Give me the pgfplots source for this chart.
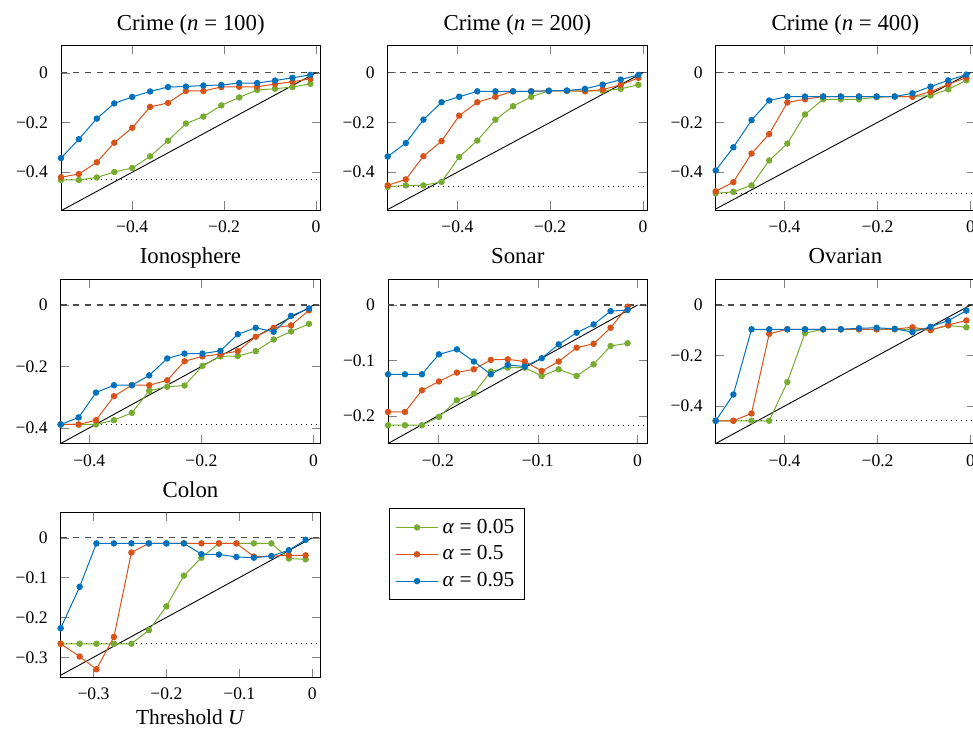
\documentclass[border=0pt]{standalone}
\usepackage{fontspec}
\setmainfont{Liberation Serif}
\usepackage{pgfplots}
\usepackage{pgfplotstable}
\pgfplotsset{compat=1.18}
\definecolor{cg}{RGB}{119,172,48}
\definecolor{cr}{RGB}{217,83,25}
\definecolor{cb}{RGB}{0,114,189}

\pgfplotstableread{
x g r b
-0.555 -0.431 -0.420 -0.343
-0.516 -0.431 -0.407 -0.267
-0.477 -0.421 -0.360 -0.184
-0.439 -0.399 -0.281 -0.123
-0.400 -0.383 -0.221 -0.097
-0.361 -0.336 -0.137 -0.075
-0.322 -0.273 -0.121 -0.057
-0.283 -0.204 -0.073 -0.055
-0.245 -0.176 -0.073 -0.051
-0.206 -0.131 -0.057 -0.049
-0.167 -0.099 -0.056 -0.041
-0.128 -0.069 -0.056 -0.041
-0.089 -0.064 -0.045 -0.031
-0.051 -0.057 -0.036 -0.020
-0.012 -0.044 -0.024 -0.008
}\tA
\pgfplotstableread{
x g r b
-0.550 -0.459 -0.453 -0.337
-0.511 -0.453 -0.429 -0.283
-0.473 -0.453 -0.336 -0.189
-0.434 -0.439 -0.275 -0.119
-0.396 -0.339 -0.173 -0.097
-0.357 -0.273 -0.119 -0.075
-0.318 -0.189 -0.097 -0.075
-0.280 -0.135 -0.075 -0.075
-0.241 -0.097 -0.075 -0.075
-0.203 -0.073 -0.073 -0.073
-0.164 -0.073 -0.073 -0.072
-0.125 -0.073 -0.075 -0.065
-0.087 -0.073 -0.068 -0.048
-0.048 -0.065 -0.049 -0.028
-0.010 -0.049 -0.021 -0.009
}\tB
\pgfplotstableread{
x g r b
-0.548 -0.485 -0.477 -0.393
-0.510 -0.479 -0.440 -0.300
-0.471 -0.453 -0.325 -0.191
-0.433 -0.353 -0.247 -0.112
-0.394 -0.285 -0.120 -0.096
-0.356 -0.168 -0.107 -0.096
-0.317 -0.107 -0.096 -0.096
-0.279 -0.107 -0.096 -0.096
-0.240 -0.107 -0.096 -0.096
-0.202 -0.099 -0.096 -0.096
-0.163 -0.096 -0.096 -0.096
-0.125 -0.096 -0.097 -0.083
-0.086 -0.092 -0.077 -0.056
-0.048 -0.067 -0.047 -0.031
-0.009 -0.031 -0.020 -0.008
}\tC
\pgfplotstableread{
x g r b
-0.451 -0.389 -0.389 -0.389
-0.419 -0.389 -0.389 -0.366
-0.388 -0.389 -0.375 -0.285
-0.356 -0.375 -0.297 -0.261
-0.324 -0.351 -0.261 -0.261
-0.293 -0.279 -0.261 -0.229
-0.261 -0.266 -0.245 -0.174
-0.230 -0.262 -0.183 -0.158
-0.198 -0.198 -0.167 -0.158
-0.166 -0.167 -0.160 -0.149
-0.135 -0.166 -0.150 -0.095
-0.103 -0.150 -0.103 -0.074
-0.071 -0.112 -0.074 -0.087
-0.040 -0.086 -0.066 -0.035
-0.008 -0.061 -0.017 -0.011
}\tD
\pgfplotstableread{
x g r b
-0.250 -0.217 -0.193 -0.125
-0.233 -0.217 -0.193 -0.125
-0.216 -0.217 -0.154 -0.125
-0.199 -0.202 -0.138 -0.089
-0.181 -0.172 -0.122 -0.080
-0.164 -0.160 -0.116 -0.102
-0.147 -0.120 -0.099 -0.125
-0.130 -0.113 -0.098 -0.108
-0.113 -0.113 -0.102 -0.111
-0.096 -0.128 -0.119 -0.096
-0.079 -0.116 -0.102 -0.071
-0.061 -0.128 -0.077 -0.050
-0.044 -0.107 -0.070 -0.035
-0.027 -0.074 -0.041 -0.011
-0.010 -0.069 -0.003 -0.009
}\tE
\pgfplotstableread{
x g r b
-0.548 -0.458 -0.458 -0.458
-0.510 -0.458 -0.458 -0.354
-0.471 -0.458 -0.429 -0.096
-0.433 -0.458 -0.114 -0.096
-0.394 -0.305 -0.096 -0.096
-0.356 -0.111 -0.096 -0.096
-0.317 -0.096 -0.096 -0.096
-0.279 -0.096 -0.096 -0.096
-0.240 -0.096 -0.096 -0.092
-0.202 -0.096 -0.096 -0.090
-0.163 -0.096 -0.095 -0.094
-0.125 -0.096 -0.088 -0.107
-0.086 -0.099 -0.099 -0.086
-0.048 -0.081 -0.079 -0.062
-0.009 -0.088 -0.061 -0.022
}\tF
\pgfplotstableread{
x g r b
-0.345 -0.266 -0.266 -0.227
-0.319 -0.266 -0.298 -0.123
-0.296 -0.266 -0.330 -0.014
-0.272 -0.266 -0.249 -0.014
-0.248 -0.266 -0.037 -0.014
-0.224 -0.232 -0.014 -0.014
-0.200 -0.172 -0.014 -0.014
-0.176 -0.095 -0.014 -0.014
-0.152 -0.050 -0.014 -0.041
-0.128 -0.014 -0.014 -0.042
-0.104 -0.014 -0.014 -0.048
-0.080 -0.014 -0.047 -0.050
-0.056 -0.014 -0.046 -0.046
-0.032 -0.052 -0.044 -0.031
-0.009 -0.054 -0.044 -0.005
}\tG

\pgfplotsset{
  pan/.style={scale only axis, width=129.75pt, height=82.25pt, anchor=north west,
    title style={font=\fontsize{11.4}{13}\selectfont, anchor=base, at={(0.5,1)}, yshift=1.6pt},
    tick label style={font=\fontsize{8.8}{10}\selectfont},
    yticklabel style={xshift=-3pt},
    xticklabel style={yshift=-2pt},
    label style={font=\fontsize{10.7}{12}\selectfont},
    every axis plot/.append style={line width=0.5pt},
  },
  sg/.style={color=cg, mark=*, mark size=1.35pt, mark options={solid, fill=cg}},
  sr/.style={color=cr, mark=*, mark size=1.35pt, mark options={solid, fill=cr}},
  sb/.style={color=cb, mark=*, mark size=1.35pt, mark options={solid, fill=cb}},
}
\newcommand\refl[3]{%
  \addplot[forget plot, black!70, dashed, line width=0.6pt] coordinates {(#1,0) (#2,0)};
  \addplot[forget plot, black, dotted, line width=0.5pt] coordinates {(#1,#3) (#2,#3)};
  \addplot[forget plot, black, line width=0.45pt] coordinates {(#1,#1) (0,0)};
}
\newcommand\ser[1]{%
  \addplot[sg] table[x=x,y=g] {#1};
  \addplot[sr] table[x=x,y=r] {#1};
  \addplot[sb] table[x=x,y=b] {#1};
}

\begin{document}
\begin{tikzpicture}
\useasboundingbox (0,0) rectangle (486.5pt,-364.5pt);

\begin{axis}[pan, at={(30.5pt,-22.75pt)}, title={Crime (\textit{n} = 100)},
  xmin=-0.555, xmax=0.010, ymin=-0.552, ymax=0.11,
  xtick={-0.4,-0.2,0}, xticklabels={−0.4,−0.2,0},
  ytick={-0.4,-0.2,0}, yticklabels={−0.4,−0.2,0}]
\refl{-0.555}{0.010}{-0.430}
\ser{\tA}
\end{axis}

\begin{axis}[pan, at={(193.85pt,-22.75pt)}, title={Crime (\textit{n} = 200)},
  xmin=-0.550, xmax=0.009, ymin=-0.552, ymax=0.109,
  xtick={-0.4,-0.2,0}, xticklabels={−0.4,−0.2,0},
  ytick={-0.4,-0.2,0}, yticklabels={−0.4,−0.2,0}]
\refl{-0.550}{0.009}{-0.459}
\ser{\tB}
\end{axis}

\begin{axis}[pan, at={(357.85pt,-22.75pt)}, title={Crime (\textit{n} = 400)},
  xmin=-0.548, xmax=0.010, ymin=-0.552, ymax=0.109,
  xtick={-0.4,-0.2,0}, xticklabels={−0.4,−0.2,0},
  ytick={-0.4,-0.2,0}, yticklabels={−0.4,−0.2,0}]
\refl{-0.548}{0.010}{-0.485}
\ser{\tC}
\end{axis}

\begin{axis}[pan, at={(30.35pt,-139.5pt)}, title={Ionosphere},
  xmin=-0.451, xmax=0.012, ymin=-0.451, ymax=0.085,
  xtick={-0.4,-0.2,0}, xticklabels={−0.4,−0.2,0},
  ytick={-0.4,-0.2,0}, yticklabels={−0.4,−0.2,0}]
\refl{-0.451}{0.012}{-0.389}
\ser{\tD}
\end{axis}

\begin{axis}[pan, at={(194pt,-139.5pt)}, title={Sonar},
  xmin=-0.250, xmax=0.010, ymin=-0.250, ymax=0.047,
  xtick={-0.2,-0.1,0}, xticklabels={−0.2,−0.1,0},
  ytick={-0.2,-0.1,0}, yticklabels={−0.2,−0.1,0}]
\refl{-0.250}{0.010}{-0.217}
\ser{\tE}
\end{axis}

\begin{axis}[pan, at={(357.85pt,-139.5pt)}, title={Ovarian},
  xmin=-0.548, xmax=0.010, ymin=-0.548, ymax=0.103,
  xtick={-0.4,-0.2,0}, xticklabels={−0.4,−0.2,0},
  ytick={-0.4,-0.2,0}, yticklabels={−0.4,−0.2,0}]
\refl{-0.548}{0.010}{-0.458}
\ser{\tF}
\end{axis}

\begin{axis}[pan, at={(30.35pt,-256.35pt)}, title={Colon},
  xmin=-0.345, xmax=0.011, ymin=-0.350, ymax=0.063,
  xtick={-0.3,-0.2,-0.1,0}, xticklabels={−0.3,−0.2,−0.1,0},
  ytick={-0.3,-0.2,-0.1,0}, yticklabels={−0.3,−0.2,−0.1,0},
  xlabel={Threshold \textit{U}},
  xlabel style={yshift=2pt},
  legend image code/.code={\draw[mark repeat=2, mark phase=2] plot coordinates {(0cm,0cm) (0.37cm,0cm) (0.74cm,0cm)};},
  legend style={at={(1.265,0.468)}, anchor=south west, font=\fontsize{10.7}{12}\selectfont, draw=black, line width=0.5pt, row sep=0.8pt, inner ysep=3pt},
  legend cell align=left]
\refl{-0.345}{0.011}{-0.266}
\ser{\tG}
\legend{\textit{α} = 0.05, \textit{α} = 0.5, \textit{α} = 0.95}
\end{axis}
\end{tikzpicture}
\end{document}
